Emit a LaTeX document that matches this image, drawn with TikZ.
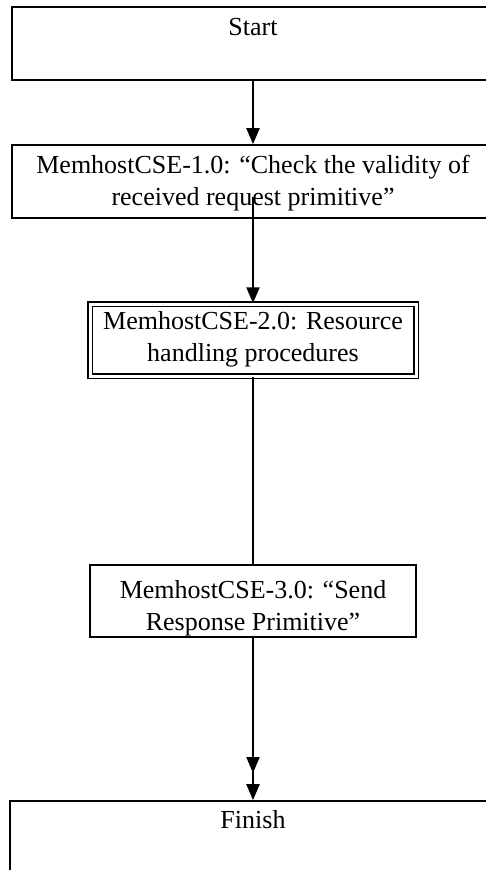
\documentclass[tikz,border=0pt]{standalone}
\usepackage{fontspec}
\setmainfont{Liberation Serif}
\usetikzlibrary{arrows.meta}
\tikzset{
  box/.style={draw, line width=1.7pt, inner sep=0pt},
  dbox/.style={draw, double, double distance=3pt, line width=1.5pt, inner sep=0pt},
  txt/.style={inner sep=0pt, align=center},
  flow/.style={line width=2.1pt, -{Triangle[length=16pt,width=13pt]}},
  plain/.style={line width=2.1pt}
}
\begin{document}
\begin{tikzpicture}[x=1pt,y=-1pt,font=\fontsize{26}{32}\selectfont]
\clip (0,0) rectangle (486,870);
\fill[white] (0,0) rectangle (486,870);
% Start
\node[box, minimum width=482pt, minimum height=73pt] (start) at (253,43.5) {};
\node[txt] (starttxt) at (253,27) {Start};
% Box 1
\node[box, minimum width=482pt, minimum height=73pt] (b1) at (253,181.5) {};
\node[txt] (b1txt) at (253,183.5) {MemhostCSE-1.0: “Check the validity of\\received request primitive”};
% Box 2
\node[dbox, minimum width=326pt, minimum height=72pt] (b2) at (253,340) {};
\node[txt] (b2txt) at (253,339) {MemhostCSE-2.0: Resource\\handling procedures};
% Box 3
\node[box, minimum width=326pt, minimum height=72pt] (b3) at (253,601) {};
\node[txt] (b3txt) at (253,608) {MemhostCSE-3.0: “Send\\Response Primitive”};
% Finish
\node[box, minimum width=486pt, minimum height=120pt] (fin) at (253,861) {};
\node[txt] (fintxt) at (253,820) {Finish};
% connectors
\draw[flow] (start.south) -- (b1.north);
\coordinate (b1src) at (253,197);
\draw[flow] (b1src) -- (b2.north);
\draw[plain] (b2.south) -- (b3.north);
\coordinate (mid) at (253,773);
\draw[flow] (b3.south) -- (mid);
\draw[flow] (b3.south) -- (fin.north);
\end{tikzpicture}
\end{document}
